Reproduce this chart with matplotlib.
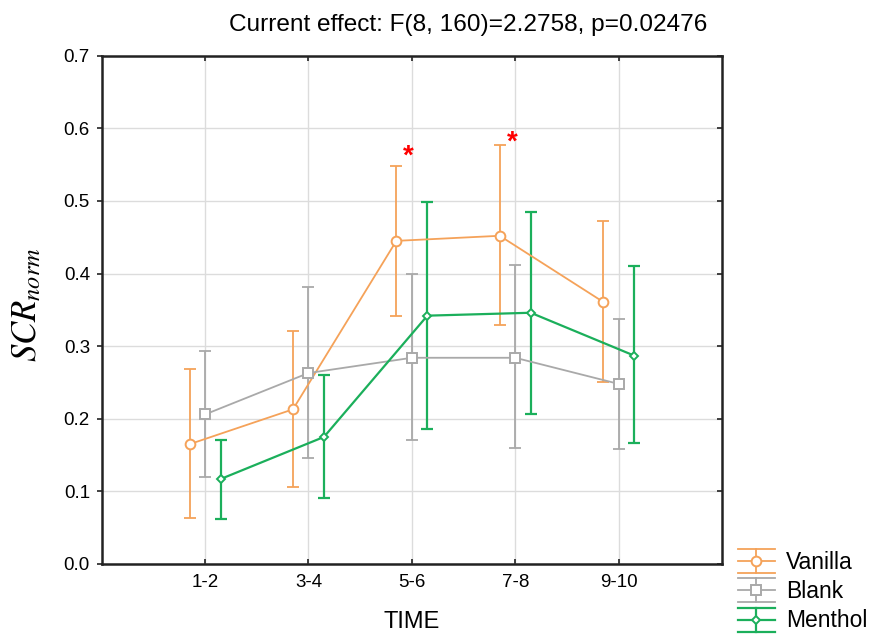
import matplotlib
matplotlib.use("Agg")
import matplotlib.pyplot as plt
from matplotlib.lines import Line2D
from matplotlib.legend_handler import HandlerBase
import numpy as np

plt.rcParams['font.family'] = ['Liberation Sans', 'DejaVu Sans']
plt.rcParams['mathtext.fontset'] = 'stix'

categories = ["1-2", "3-4", "5-6", "7-8", "9-10"]
series_names = ["Vanilla", "Blank", "Menthol"]

vanilla_mean = [0.165, 0.213, 0.445, 0.452, 0.361]
vanilla_low = [0.064, 0.106, 0.342, 0.329, 0.251]
vanilla_high = [0.269, 0.321, 0.548, 0.577, 0.473]

blank_mean = [0.206, 0.263, 0.284, 0.284, 0.248]
blank_low = [0.120, 0.146, 0.171, 0.160, 0.159]
blank_high = [0.294, 0.381, 0.400, 0.412, 0.337]

menthol_mean = [0.117, 0.175, 0.342, 0.346, 0.287]
menthol_low = [0.062, 0.091, 0.186, 0.207, 0.166]
menthol_high = [0.171, 0.260, 0.499, 0.485, 0.410]

star_categories = ["5-6", "7-8"]
star_heights = [0.569, 0.588]

title = "Current effect: F(8, 160)=2.2758, p=0.02476"

colors = {"Vanilla": "#F5A259", "Blank": "#A9A9A9", "Menthol": "#1BAF5B"}
markers = {"Vanilla": "o", "Blank": "s", "Menthol": "D"}
msizes = {"Vanilla": 7, "Blank": 6.5, "Menthol": 4.2}
offsets = {"Vanilla": -0.15, "Blank": 0.0, "Menthol": 0.15}
lws = {"Vanilla": 1.3, "Blank": 1.3, "Menthol": 1.6}

data = {
    "Vanilla": (vanilla_mean, vanilla_low, vanilla_high),
    "Blank": (blank_mean, blank_low, blank_high),
    "Menthol": (menthol_mean, menthol_low, menthol_high),
}

fig = plt.figure(figsize=(8.76, 6.35), dpi=100)
ax = fig.add_axes([101.7/876, 1-564/635, (722-101.7)/876, (564-55.7)/635])

xpos = np.arange(1, len(categories) + 1)
handles = []
for name in series_names:
    m, lo, hi = (np.array(v) for v in data[name])
    x = xpos + offsets[name]
    c = colors[name]
    ax.errorbar(x, m, yerr=[m - lo, hi - m], fmt='none', ecolor=c,
                elinewidth=lws[name], capsize=4.3, capthick=lws[name], zorder=3)
    ln, = ax.plot(x, m, color=c, lw=lws[name], marker=markers[name],
                  markersize=msizes[name], markerfacecolor='white',
                  markeredgecolor=c, markeredgewidth=1.4, zorder=4, label=name)
    handles.append(ln)

for cat, h in zip(star_categories, star_heights):
    xi = categories.index(cat) + 1 - 0.03
    ax.text(xi, h - 0.008, "*", color="#FF0000", fontsize=20, ha='center',
            va='center', fontweight='bold', zorder=5)

ax.set_xlim(0, 6)
ax.set_ylim(0, 0.7)
ax.set_xticks(xpos)
ax.set_xticklabels(categories)
ax.set_yticks(np.arange(0, 0.71, 0.1))
ax.set_yticklabels([f"{v:.1f}" for v in np.arange(0, 0.71, 0.1)])
ax.grid(True, color='#DCDCDC', lw=1.0, zorder=0)
ax.set_axisbelow(True)

for s in ax.spines.values():
    s.set_linewidth(1.8)
    s.set_color('#222222')

ax.tick_params(axis='x', which='major', direction='in', top=True, bottom=True,
               length=3.5, width=1.2, labelsize=13.5, pad=7, colors='#222222',
               labelcolor='black')
ax.tick_params(axis='y', which='major', direction='out', left=True, right=False,
               length=3.5, width=1.2, labelsize=13.5, pad=5, colors='#222222',
               labelcolor='black')
ax2 = ax.twinx()
ax2.set_ylim(ax.get_ylim())
ax2.set_yticks(np.arange(0, 0.71, 0.1))
ax2.tick_params(axis='y', direction='in', length=3.5, width=1.2, labelright=False,
                colors='#222222')
for s in ax2.spines.values():
    s.set_visible(False)

ax.set_xlabel("TIME", fontsize=17)
ax.xaxis.set_label_coords(0.5, -0.092)
ax.set_ylabel(r"$SCR_{norm}$", fontsize=25)
ax.yaxis.set_label_coords(-0.095, 0.51)

fig.text(468/876, 1-25/635, title, ha='center', va='center', fontsize=17.6)


class ErrHandler(HandlerBase):
    def create_artists(self, legend, orig_handle, xdescent, ydescent, width,
                       height, fontsize, trans):
        c = orig_handle.get_color()
        lw = orig_handle.get_linewidth()
        cy = height / 2 - ydescent
        x0 = -xdescent
        x1 = x0 + width
        xc = (x0 + x1) / 2
        d = 8.6
        arts = []
        for yy in (cy - d, cy, cy + d):
            arts.append(Line2D([x0, x1], [yy, yy], color=c, lw=lw))
        arts.append(Line2D([xc, xc], [cy - d, cy + d], color=c, lw=lw))
        arts.append(Line2D([xc], [cy], marker=orig_handle.get_marker(),
                           markersize=orig_handle.get_markersize(),
                           markerfacecolor='white', markeredgecolor=c,
                           markeredgewidth=orig_handle.get_markeredgewidth(),
                           linestyle='none'))
        for a in arts:
            a.set_transform(trans)
        return arts


leg = fig.legend(handles=handles, labels=series_names, loc='upper left',
                 bbox_to_anchor=(722/876, 1-534/635), frameon=False,
                 fontsize=16.5, handlelength=1.6, handleheight=1.1,
                 handletextpad=0.5, labelspacing=0.24, borderpad=0.2,
                 handler_map={Line2D: ErrHandler()})

fig.savefig("out.png", dpi=100)
